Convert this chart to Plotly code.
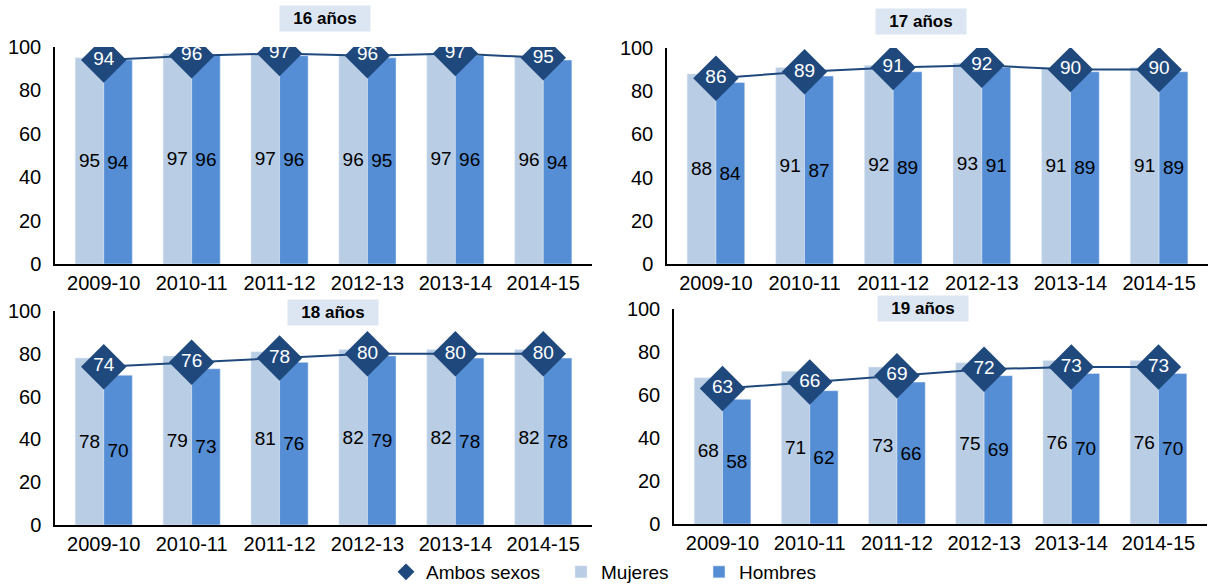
import plotly.graph_objects as go

years = ["2009-10", "2010-11", "2011-12", "2012-13", "2013-14", "2014-15"]
panel_titles = ["16 años", "17 años", "18 años", "19 años"]

mujeres_16 = [95, 97, 97, 96, 97, 96]
hombres_16 = [94, 96, 96, 95, 96, 94]
ambos_16 = [94, 96, 97, 96, 97, 95]

mujeres_17 = [88, 91, 92, 93, 91, 91]
hombres_17 = [84, 87, 89, 91, 89, 89]
ambos_17 = [86, 89, 91, 92, 90, 90]

mujeres_18 = [78, 79, 81, 82, 82, 82]
hombres_18 = [70, 73, 76, 79, 78, 78]
ambos_18 = [74, 76, 78, 80, 80, 80]

mujeres_19 = [68, 71, 73, 75, 76, 76]
hombres_19 = [58, 62, 66, 69, 70, 70]
ambos_19 = [63, 66, 69, 72, 73, 73]

y_ticks = [0, 20, 40, 60, 80, 100]

panels = [
    (mujeres_16, hombres_16, ambos_16),
    (mujeres_17, hombres_17, ambos_17),
    (mujeres_18, hombres_18, ambos_18),
    (mujeres_19, hombres_19, ambos_19),
]

W, H = 1212, 585
C_MUJ = "#B9CDE5"
C_HOM = "#558ED5"
C_AMB = "#1F497D"
FONT = "Arial, Liberation Sans, sans-serif"

# pixel geometry of each plot area: (x0, x1, y_top, y_bottom)
geom = [
    (55, 592, 47, 264),
    (667, 1208, 48, 264),
    (55, 592, 311, 525),
    (674, 1207, 309, 524),
]
title_pos = [(325, 18.5), (920.5, 21.5), (332.5, 312), (923, 308.5)]

fig = go.Figure()

for i, (muj, hom, amb) in enumerate(panels):
    ax = "" if i == 0 else str(i + 1)
    xa, ya = "x" + ax, "y" + ax
    first = i == 0
    fig.add_trace(go.Bar(
        x=years, y=muj, name="Mujeres", marker_color=C_MUJ,
        text=muj, textposition="inside", insidetextanchor="middle",
        insidetextfont=dict(color="black", size=19, family=FONT),
        constraintext="none", textangle=0,
        xaxis=xa, yaxis=ya, showlegend=first, legend="legend2",
        hoverinfo="skip"))
    fig.add_trace(go.Bar(
        x=years, y=hom, name="Hombres", marker_color=C_HOM,
        text=hom, textposition="inside", insidetextanchor="middle",
        insidetextfont=dict(color="black", size=19, family=FONT),
        constraintext="none", textangle=0,
        xaxis=xa, yaxis=ya, showlegend=first, legend="legend3",
        hoverinfo="skip"))
    fig.add_trace(go.Scatter(
        x=years, y=amb, mode="lines+markers+text", name="Ambos sexos",
        line=dict(color=C_AMB, width=2),
        marker=dict(symbol="diamond", size=35, color=C_AMB),
        text=amb, textposition="middle center",
        textfont=dict(color="white", size=19, family=FONT),
        xaxis=xa, yaxis=ya, showlegend=False, hoverinfo="skip"))

# legend-only entry for "Ambos sexos" (diamond only)
fig.add_trace(go.Scatter(
    x=[None], y=[None], mode="markers", name="Ambos sexos",
    marker=dict(symbol="diamond", size=13, color=C_AMB),
    xaxis="x", yaxis="y", showlegend=True, legend="legend",
    hoverinfo="skip"))

leg_y = 1 - 572 / H
def leg(xpx):
    return dict(orientation="h", x=xpx / W, xanchor="left",
                y=leg_y, yanchor="middle",
                font=dict(size=19, family=FONT, color="black"),
                bgcolor="rgba(0,0,0,0)", borderwidth=0)

layout = dict(
    width=W, height=H, margin=dict(l=0, r=0, t=0, b=0, autoexpand=False),
    paper_bgcolor="white", plot_bgcolor="white",
    barmode="group", bargap=0.35, bargroupgap=0,
    font=dict(family=FONT, size=19, color="black"),
    showlegend=True,
    legend=leg(386), legend2=leg(561), legend3=leg(699),
    annotations=[],
)

for i, (x0, x1, yt, yb) in enumerate(geom):
    ax = "" if i == 0 else str(i + 1)
    layout["xaxis" + ax] = dict(
        domain=[x0 / W, x1 / W], anchor="y" + ax,
        type="category", categoryorder="array", categoryarray=years,
        showline=True, linecolor="black", linewidth=1.5,
        showgrid=False, zeroline=False, ticks="", automargin=False,
        tickfont=dict(size=20, family=FONT, color="black"),
        fixedrange=True)
    layout["yaxis" + ax] = dict(
        domain=[1 - yb / H, 1 - yt / H], anchor="x" + ax,
        range=[0, 100], tickvals=y_ticks,
        showline=True, linecolor="black", linewidth=1.5,
        showgrid=False, zeroline=False, ticks="", automargin=False,
        ticklabelstandoff=8,
        tickfont=dict(size=20, family=FONT, color="black"),
        fixedrange=True)
    cx, cy = title_pos[i]
    layout["annotations"].append(dict(
        text="<b>" + panel_titles[i] + "</b>",
        xref="paper", yref="paper", x=cx / W, y=1 - cy / H,
        xanchor="center", yanchor="middle", showarrow=False,
        bgcolor="#DCE6F2", width=86, height=21, borderpad=2,
        font=dict(size=17, family=FONT, color="black")))

fig.update_layout(**layout)
fig.write_html("out.html",
               config={"displayModeBar": False},
               post_script="document.body.style.margin='0';"
                           "document.body.style.overflow='hidden';")
